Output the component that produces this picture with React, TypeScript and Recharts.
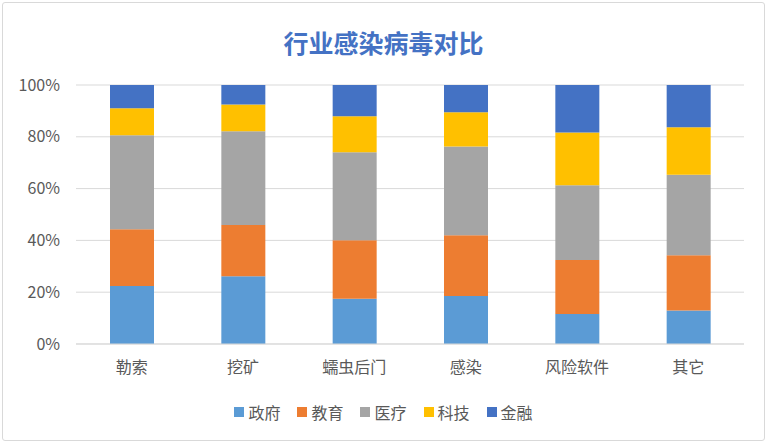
import React from "react"
import { Bar, BarChart, CartesianGrid, XAxis, YAxis } from "recharts"

const categories = ["勒索", "挖矿", "蠕虫后门", "感染", "风险软件", "其它"]

const government = [22.4, 26.2, 17.5, 18.5, 11.6, 12.9]
const education = [21.9, 19.7, 22.6, 23.5, 20.8, 21.4]
const medical = [36.3, 36.2, 33.9, 34.3, 28.9, 31.0]
const technology = [10.4, 10.4, 13.9, 13.2, 20.4, 18.4]
const finance = [9.0, 7.5, 12.1, 10.5, 18.3, 16.3]

const yTicks = [0, 0.2, 0.4, 0.6, 0.8, 1]

const series = [
  { key: "政府", values: government, color: "#5B9BD5" },
  { key: "教育", values: education, color: "#ED7D31" },
  { key: "医疗", values: medical, color: "#A5A5A5" },
  { key: "科技", values: technology, color: "#FFC000" },
  { key: "金融", values: finance, color: "#4472C4" },
]

const FONT = '"Noto Sans CJK SC", "Liberation Sans", sans-serif'

export default function App() {
  // one row per category, one field per industry
  const data = categories.map((name, i) => {
    const row: Record<string, string | number> = { name }
    series.forEach((s) => {
      row[s.key] = s.values[i]
    })
    return row
  })

  return (
    <div
      style={{
        position: "absolute",
        left: 0,
        top: 0,
        width: 767,
        height: 444,
        background: "#fff",
        fontFamily: FONT,
      }}
    >
      <div
        style={{
          position: "absolute",
          left: 2,
          top: 2,
          width: 761,
          height: 437,
          border: "1px solid #d9d9d9",
          borderRadius: 3,
        }}
      />
      <div
        style={{
          position: "absolute",
          top: 24,
          left: 0,
          width: 767,
          textAlign: "center",
          fontSize: 25,
          fontWeight: "bold",
          color: "#4472C4",
          lineHeight: "36px",
        }}
      >
        行业感染病毒对比
      </div>
      <div style={{ position: "absolute", left: 0, top: 0 }}>
        <BarChart
          width={767}
          height={444}
          data={data}
          stackOffset="expand"
          margin={{ top: 85, right: 23, left: 0, bottom: 60 }}
        >
          <CartesianGrid vertical={false} stroke="#d9d9d9" strokeWidth={1} />
          <XAxis
            dataKey="name"
            height={40}
            tickLine={false}
            axisLine={{ stroke: "#d9d9d9" }}
            tickMargin={12}
            tick={{ fill: "#595959", fontSize: 16, fontFamily: FONT }}
          />
          <YAxis
            width={76}
            domain={[0, 1]}
            ticks={yTicks}
            tickFormatter={(v: number) => `${Math.round(v * 100)}%`}
            tickLine={false}
            axisLine={false}
            tickMargin={10}
            tick={{ fill: "#595959", fontSize: 16, fontFamily: FONT }}
          />
          {series.map((s) => (
            <Bar
              key={s.key}
              dataKey={s.key}
              stackId="a"
              fill={s.color}
              barSize={44}
              isAnimationActive={false}
            />
          ))}
        </BarChart>
      </div>
      <div
        style={{
          position: "absolute",
          top: 401,
          left: 0,
          width: 767,
          display: "flex",
          justifyContent: "center",
          gap: 17,
          fontSize: 16,
          color: "#595959",
          lineHeight: "22px",
        }}
      >
        {series.map((s) => (
          <div key={s.key} style={{ display: "flex", alignItems: "center" }}>
            <span
              style={{
                display: "inline-block",
                width: 10,
                height: 10,
                background: s.color,
                marginRight: 4,
              }}
            />
            <span>{s.key}</span>
          </div>
        ))}
      </div>
    </div>
  )
}
